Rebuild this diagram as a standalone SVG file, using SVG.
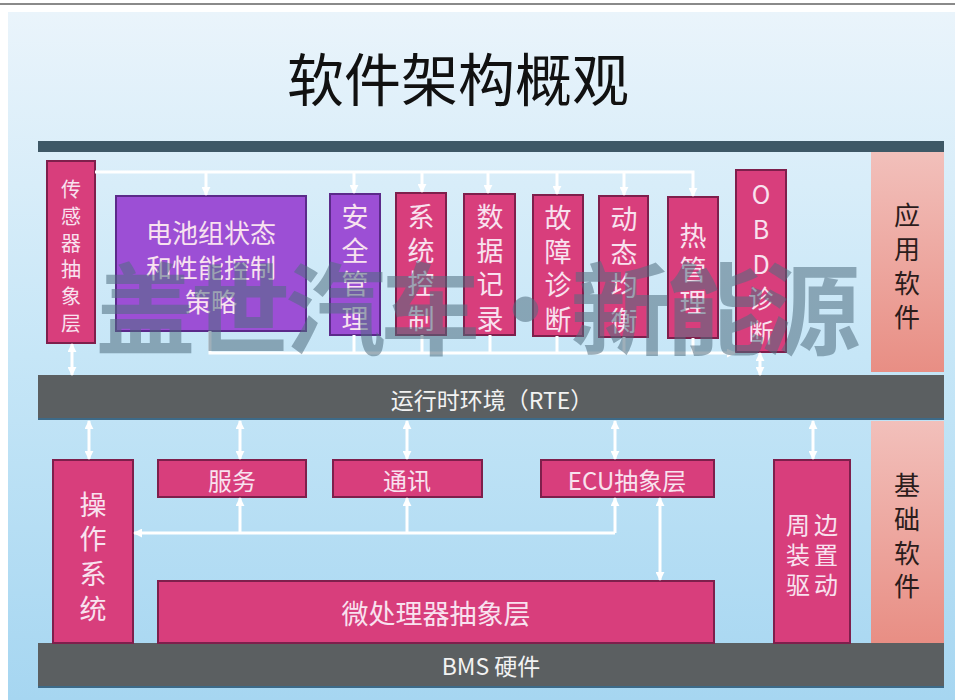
<svg xmlns="http://www.w3.org/2000/svg" width="955" height="700" viewBox="0 0 955 700">
<defs>
<linearGradient id="bg" x1="0" y1="0" x2="0" y2="1">
<stop offset="0" stop-color="#eaf4fb"/>
<stop offset="0.5" stop-color="#c6e6f7"/>
<stop offset="1" stop-color="#a6d6f1"/>
</linearGradient>
<linearGradient id="salmon" x1="0" y1="0" x2="0" y2="1">
<stop offset="0" stop-color="#f2c0bb"/>
<stop offset="1" stop-color="#e88e84"/>
</linearGradient>
<marker id="ah" viewBox="0 0 10 10" refX="9" refY="5" markerWidth="3" markerHeight="3" orient="auto-start-reverse">
<path d="M0,0 L10,5 L0,10 z" fill="#ffffff"/>
</marker>
<style>
.pk{fill:#d83e7c;stroke:#7e1f4c;stroke-width:2}
.pu{fill:#9c4fd5;stroke:#5b2a8a;stroke-width:2}
.bar{fill:#5b5f61}
.lbl{fill:url(#salmon)}
.t{font-family:"Noto Sans CJK SC","Noto Sans",sans-serif;fill:#f8e2ef;text-anchor:middle;dominant-baseline:central}
.tw{font-family:"Noto Sans CJK SC","Noto Sans",sans-serif;fill:#f2f2f2;text-anchor:middle;dominant-baseline:central}
.td{font-family:"Noto Sans CJK SC","Noto Sans",sans-serif;fill:#2b1c1c;text-anchor:middle;dominant-baseline:central}
.c{fill:none;stroke:#ffffff;stroke-width:3}
.a{marker-end:url(#ah)}
.d{marker-start:url(#ah);marker-end:url(#ah)}
</style>
</defs>
<rect x="0" y="0" width="955" height="700" fill="#ffffff"/>
<rect x="0" y="3" width="955" height="2" fill="#8a8a8a"/>
<rect x="8" y="12" width="947" height="688" fill="url(#bg)"/>

<text x="458" y="76" font-family="'Noto Sans CJK SC','Noto Sans',sans-serif" font-size="57" fill="#111111" text-anchor="middle" dominant-baseline="central">软件架构概观</text>

<!-- bars -->
<g id="top-bar"><rect x="38" y="141" width="906" height="11" fill="#3e5866"/></g>
<g id="rte">
<rect x="38" y="375" width="906" height="45" class="bar"/>
<rect x="38" y="418" width="906" height="2" fill="#3d6a88"/>
<text x="492" y="399" class="tw" font-size="23">运行时环境（RTE）</text>
</g>
<g id="bms">
<rect x="38" y="643" width="906" height="45" class="bar"/>
<rect x="38" y="686" width="906" height="2" fill="#3d6a88"/>
<text x="491" y="665" class="tw" font-size="23">BMS 硬件</text>
</g>

<!-- layer labels -->
<g id="app-label">
<rect x="871" y="152" width="73" height="220" class="lbl"/>
<text class="td" font-size="26"><tspan x="907" y="213">应</tspan><tspan x="907" y="247">用</tspan><tspan x="907" y="281">软</tspan><tspan x="907" y="315">件</tspan></text>
</g>
<g id="base-label">
<rect x="871" y="421" width="73" height="222" class="lbl"/>
<text class="td" font-size="26"><tspan x="907" y="483">基</tspan><tspan x="907" y="517">础</tspan><tspan x="907" y="551">软</tspan><tspan x="907" y="584">件</tspan></text>
</g>

<!-- application nodes -->
<g id="sensor">
<rect x="47" y="161" width="48" height="182" class="pk"/>
<text class="t" font-size="20"><tspan x="71" y="188">传</tspan><tspan x="71" y="215">感</tspan><tspan x="71" y="242">器</tspan><tspan x="71" y="268">抽</tspan><tspan x="71" y="295">象</tspan><tspan x="71" y="322">层</tspan></text>
</g>
<g id="battery">
<rect x="116" y="196" width="190" height="135" class="pu"/>
<text class="t" font-size="26"><tspan x="211" y="231">电池组状态</tspan><tspan x="211" y="266">和性能控制</tspan><tspan x="211" y="300">策略</tspan></text>
</g>
<g id="safety">
<rect x="330" y="194" width="50" height="141" class="pu"/>
<text class="t" font-size="27"><tspan x="355" y="215">安</tspan><tspan x="355" y="249">全</tspan><tspan x="355" y="282">管</tspan><tspan x="355" y="317">理</tspan></text>
</g>
<g id="sysctl">
<rect x="396" y="193" width="50" height="142" class="pk"/>
<text class="t" font-size="27"><tspan x="421" y="215">系</tspan><tspan x="421" y="249">统</tspan><tspan x="421" y="282">控</tspan><tspan x="421" y="317">制</tspan></text>
</g>
<g id="datalog">
<rect x="464" y="194" width="51" height="141" class="pk"/>
<text class="t" font-size="27"><tspan x="490" y="215">数</tspan><tspan x="490" y="249">据</tspan><tspan x="490" y="282">记</tspan><tspan x="490" y="317">录</tspan></text>
</g>
<g id="fault">
<rect x="533" y="195" width="50" height="141" class="pk"/>
<text class="t" font-size="27"><tspan x="558" y="216">故</tspan><tspan x="558" y="250">障</tspan><tspan x="558" y="283">诊</tspan><tspan x="558" y="318">断</tspan></text>
</g>
<g id="balance">
<rect x="599" y="196" width="49" height="141" class="pk"/>
<text class="t" font-size="27"><tspan x="624" y="217">动</tspan><tspan x="624" y="251">态</tspan><tspan x="624" y="284">均</tspan><tspan x="624" y="319">衡</tspan></text>
</g>
<g id="thermal">
<rect x="668" y="197" width="50" height="141" class="pk"/>
<text class="t" font-size="27"><tspan x="693" y="234">热</tspan><tspan x="693" y="268">管</tspan><tspan x="693" y="301">理</tspan></text>
</g>
<g id="obd">
<rect x="736" y="170" width="50" height="182" class="pk"/>
<text class="t" font-size="25"><tspan x="761" y="193">O</tspan><tspan x="761" y="228">B</tspan><tspan x="761" y="263">D</tspan><tspan x="761" y="297">诊</tspan><tspan x="761" y="331">断</tspan></text>
</g>

<!-- basic software nodes -->
<g id="os">
<rect x="53" y="460" width="80" height="183" class="pk"/>
<text class="t" font-size="27"><tspan x="93" y="503">操</tspan><tspan x="93" y="537">作</tspan><tspan x="93" y="572">系</tspan><tspan x="93" y="607">统</tspan></text>
</g>
<g id="service">
<rect x="158" y="460" width="148" height="37" class="pk"/>
<text x="232" y="479" class="t" font-size="24">服务</text>
</g>
<g id="comm">
<rect x="333" y="460" width="149" height="37" class="pk"/>
<text x="407" y="479" class="t" font-size="24">通讯</text>
</g>
<g id="ecu">
<rect x="541" y="460" width="173" height="37" class="pk"/>
<text x="627" y="479" class="t" font-size="24">ECU抽象层</text>
</g>
<g id="mcu">
<rect x="158" y="581" width="556" height="62" class="pk"/>
<text x="436" y="612" class="t" font-size="27">微处理器抽象层</text>
</g>
<g id="periph">
<rect x="774" y="460" width="76" height="183" class="pk"/>
<text class="t" font-size="24"><tspan x="798" y="523">周</tspan><tspan x="826" y="523">边</tspan><tspan x="798" y="553">装</tspan><tspan x="826" y="553">置</tspan><tspan x="798" y="583">驱</tspan><tspan x="826" y="583">动</tspan></text>
</g>

<!-- connectors -->
<g id="connectors">
<polyline class="c a" points="95,172 693,172 693,196"/>
<line class="c a" x1="206" y1="172" x2="206" y2="195"/>
<line class="c a" x1="354" y1="172" x2="354" y2="193"/>
<line class="c a" x1="422" y1="172" x2="422" y2="192"/>
<line class="c a" x1="488" y1="172" x2="488" y2="193"/>
<line class="c a" x1="557" y1="172" x2="557" y2="194"/>
<line class="c a" x1="624" y1="172" x2="624" y2="195"/>
<polyline class="c a" points="210,331 210,353 735,353"/>
<line class="c" x1="354" y1="335" x2="354" y2="353"/>
<line class="c" x1="422" y1="335" x2="422" y2="353"/>
<line class="c" x1="490" y1="335" x2="490" y2="353"/>
<line class="c" x1="557" y1="336" x2="557" y2="353"/>
<line class="c" x1="624" y1="337" x2="624" y2="353"/>
<line class="c" x1="693" y1="338" x2="693" y2="353"/>
<line class="c d" x1="72" y1="344" x2="72" y2="375"/>
<line class="c d" x1="760" y1="353" x2="760" y2="375"/>
<line class="c d" x1="89" y1="421" x2="89" y2="459"/>
<line class="c d" x1="240" y1="421" x2="240" y2="459"/>
<line class="c d" x1="407" y1="421" x2="407" y2="459"/>
<line class="c d" x1="615" y1="421" x2="615" y2="459"/>
<line class="c d" x1="813" y1="421" x2="813" y2="459"/>
<polyline class="c a" points="615,533 134,533"/>
<line class="c a" x1="240" y1="533" x2="240" y2="498"/>
<line class="c a" x1="407" y1="533" x2="407" y2="498"/>
<line class="c a" x1="615" y1="533" x2="615" y2="498"/>
<line class="c d" x1="660" y1="498" x2="660" y2="580"/>
</g>

<text x="478" y="303" font-family="'Noto Sans CJK SC','Noto Sans',sans-serif" font-size="100" font-weight="bold" fill="#506e80" fill-opacity="0.55" text-anchor="middle" dominant-baseline="central" textLength="765" lengthAdjust="spacing">盖世汽车·新能源</text>
</svg>
